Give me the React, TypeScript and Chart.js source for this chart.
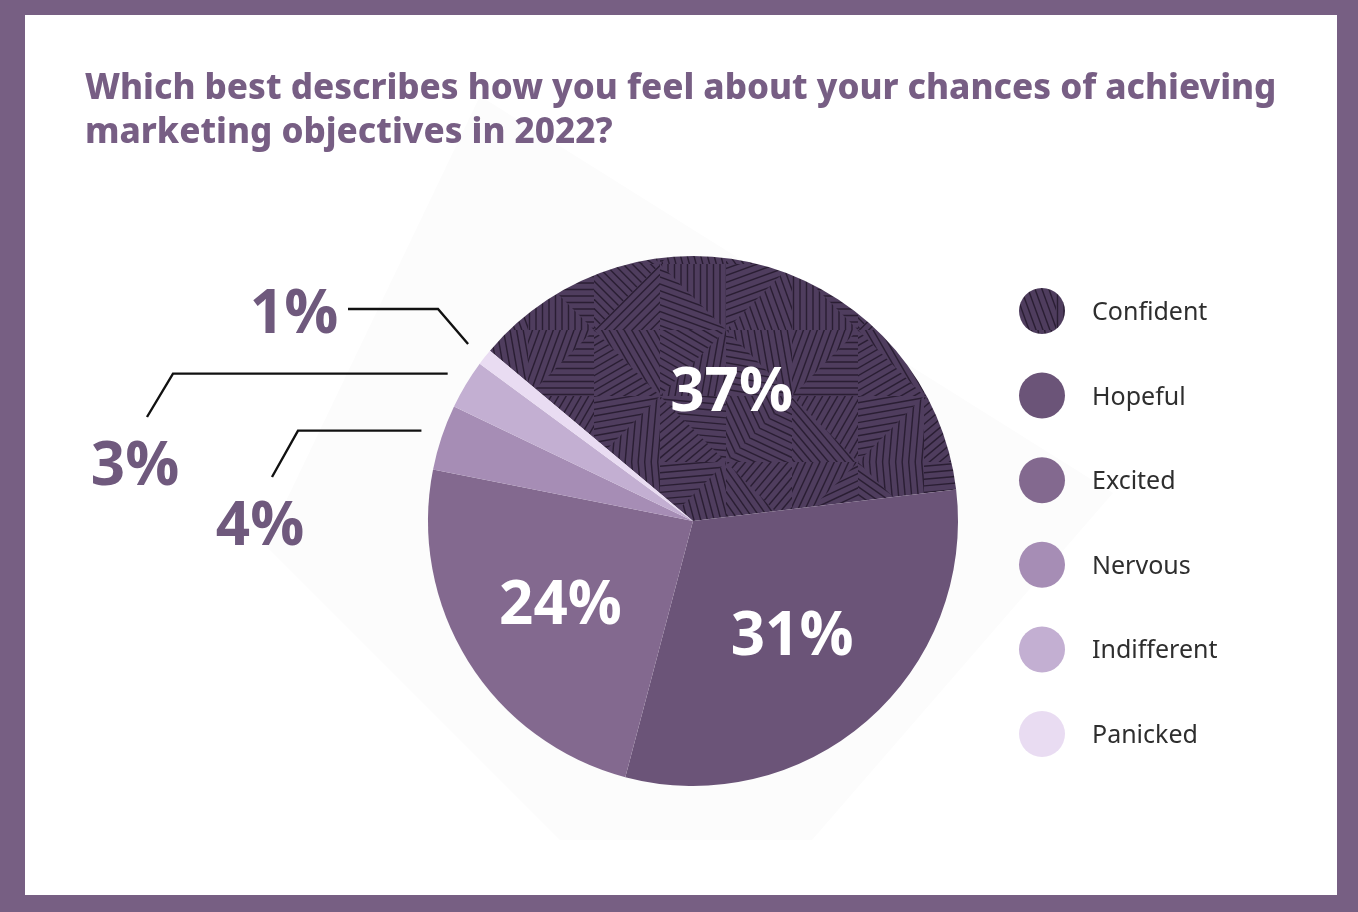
import React, { useEffect, useRef } from "react";
import { Chart, registerables } from "chart.js";
Chart.register(...registerables);

// ---------- data ----------
const categories = ["Confident", "Hopeful", "Excited", "Nervous", "Indifferent", "Panicked"];
const shares = [37, 31, 24, 4, 3, 1];
const sliceColors = ["#4f3d5e", "#6b5478", "#83698f", "#a68db5", "#c3afd2", "#e9dcf2"];
const titleLines = [
  "Which best describes how you feel about your chances of achieving",
  "marketing objectives in 2022?",
];

// ---------- layout / style ----------
const W = 1358;
const H = 912;
const FRAME = "#775f83";
const TITLE_COLOR = "#775e84";
const CALLOUT_COLOR = "#6f597d";
const PIE_RADIUS = 265;
const insideLabelRadius = [0.51, 0.57, 0.59];
// callout paths after the arc anchor (null y = keep anchor y) and text anchor (center x, baseline y)
const callouts: Record<number, { path: [number, number | null][]; text: [number, number] }> = {
  5: { path: [[438, 309], [348, 309]], text: [294, 333] },
  4: { path: [[173, null], [147, 417]], text: [135, 485] },
  3: { path: [[298, null], [272, 477]], text: [260, 545] },
};
const backdrop: [number, number][] = [[265, 545], [480, 96], [1113, 493], [812, 840], [560, 840]];
const LEGEND_X = 1042;
const LEGEND_Y0 = 311;
const LEGEND_STEP = 84.6;
const LEGEND_R = 23;
const LEGEND_TEXT_X = 1092;

function makeHatch(base: string, ink: string): CanvasPattern | string {
  const cell = 66;
  const n = 4;
  const size = cell * n;
  const c = document.createElement("canvas");
  c.width = size;
  c.height = size;
  const g = c.getContext("2d");
  if (!g) return base;
  g.fillStyle = base;
  g.fillRect(0, 0, size, size);
  g.strokeStyle = ink;
  g.lineWidth = 1.4;
  const angles = [0, 90, 45, 135, 90, 20, 160, 70, 110, 0, 60, 150, 30, 100, 80, 10,
    120, 50, 170, 95, 5, 140, 65, 25, 115, 155, 85, 35, 175, 75, 130, 55];
  let k = 0;
  for (let r = 0; r < n; r++) {
    for (let q = 0; q < n; q++) {
      const x0 = q * cell;
      const y0 = r * cell;
      const flip = (r + q) % 2 === 0;
      const tris = flip
        ? [[[x0, y0], [x0 + cell, y0], [x0 + cell, y0 + cell]], [[x0, y0], [x0, y0 + cell], [x0 + cell, y0 + cell]]]
        : [[[x0 + cell, y0], [x0, y0], [x0, y0 + cell]], [[x0 + cell, y0], [x0 + cell, y0 + cell], [x0, y0 + cell]]];
      for (const tri of tris) {
        const a = (angles[k++ % angles.length] * Math.PI) / 180;
        g.save();
        g.beginPath();
        g.moveTo(tri[0][0], tri[0][1]);
        g.lineTo(tri[1][0], tri[1][1]);
        g.lineTo(tri[2][0], tri[2][1]);
        g.closePath();
        g.clip();
        const cx = x0 + cell / 2;
        const cy = y0 + cell / 2;
        const dx = Math.cos(a), dy = Math.sin(a);
        const nx = -dy, ny = dx;
        for (let t = -cell; t <= cell; t += 6.5) {
          const px = cx + nx * t, py = cy + ny * t;
          g.beginPath();
          g.moveTo(px - dx * cell, py - dy * cell);
          g.lineTo(px + dx * cell, py + dy * cell);
          g.stroke();
        }
        g.restore();
      }
    }
  }
  const ctx = document.createElement("canvas").getContext("2d");
  return (ctx && ctx.createPattern(c, "repeat")) || base;
}

export default function App() {
  const ref = useRef<HTMLCanvasElement | null>(null);

  useEffect(() => {
    if (!ref.current) return;
    const fills = sliceColors.map((c, i) => (i === 0 ? makeHatch(c, "#2a1e33") : c));

    const overlay = {
      id: "overlay",
      beforeDatasetsDraw(chart: any) {
        const ctx = chart.ctx as CanvasRenderingContext2D;
        ctx.save();
        ctx.fillStyle = "#fcfcfc";
        ctx.beginPath();
        backdrop.forEach(([x, y], i) => (i ? ctx.lineTo(x, y) : ctx.moveTo(x, y)));
        ctx.closePath();
        ctx.fill();
        ctx.restore();
      },
      afterDatasetsDraw(chart: any) {
        const ctx = chart.ctx as CanvasRenderingContext2D;
        const meta = chart.getDatasetMeta(0);
        ctx.save();
        meta.data.forEach((arc: any, i: number) => {
          const p = arc.getProps(["x", "y", "startAngle", "endAngle", "outerRadius"], true);
          const mid = (p.startAngle + p.endAngle) / 2;
          const label = `${shares[i]}%`;
          ctx.font = "700 60px 'Open Sans'";
          ctx.textAlign = "center";
          ctx.textBaseline = "alphabetic";
          if (shares[i] >= 10) {
            const rr = p.outerRadius * (insideLabelRadius[i] ?? 0.55);
            ctx.fillStyle = "#ffffff";
            ctx.fillText(label, p.x + Math.cos(mid) * rr, p.y + Math.sin(mid) * rr + 20);
          } else {
            const co = callouts[i];
            if (!co) return;
            const ax = p.x + Math.cos(mid) * p.outerRadius * 1.08;
            const ay = p.y + Math.sin(mid) * p.outerRadius * 1.08;
            ctx.strokeStyle = "#111111";
            ctx.lineWidth = 2.4;
            ctx.beginPath();
            ctx.moveTo(ax, ay);
            co.path.forEach(([x, y]) => ctx.lineTo(x, y === null ? ay : y));
            ctx.stroke();
            ctx.fillStyle = CALLOUT_COLOR;
            ctx.fillText(label, co.text[0], co.text[1]);
          }
        });
        // legend
        categories.forEach((name, i) => {
          const cy = LEGEND_Y0 + i * LEGEND_STEP;
          ctx.beginPath();
          ctx.arc(LEGEND_X, cy, LEGEND_R, 0, Math.PI * 2);
          ctx.fillStyle = fills[i] as any;
          ctx.fill();
          ctx.fillStyle = "#2e2e2e";
          ctx.font = "400 25px 'Noto Sans'";
          ctx.textAlign = "left";
          ctx.textBaseline = "alphabetic";
          ctx.fillText(name, LEGEND_TEXT_X, cy + 9);
        });
        ctx.restore();
      },
    };

    const chart = new Chart(ref.current, {
      type: "pie",
      data: {
        labels: categories,
        datasets: [
          {
            data: shares,
            backgroundColor: fills as any,
            borderWidth: 0,
            hoverOffset: 0,
            radius: PIE_RADIUS,
          } as any,
        ],
      },
      options: {
        animation: false,
        responsive: false,
        events: [],
        rotation: -50,
        radius: PIE_RADIUS,
        layout: { padding: { left: 28, right: 0, top: 130, bottom: 0 } },
        plugins: { legend: { display: false }, tooltip: { enabled: false }, title: { display: false } },
      } as any,
      plugins: [overlay],
    });
    return () => chart.destroy();
  }, []);

  return (
    <div style={{ position: "fixed", left: 0, top: 0, width: W, height: H, background: FRAME, overflow: "hidden" }}>
      <div style={{ position: "absolute", left: 25, top: 15, width: 1312, height: 880, background: "#ffffff" }} />
      <canvas ref={ref} width={W} height={H} style={{ position: "absolute", left: 0, top: 0, width: W, height: H }} />
      <div
        style={{
          position: "absolute",
          left: 85,
          top: 64,
          font: "800 35px 'Noto Sans'",
          lineHeight: "44px",
          color: TITLE_COLOR,
          whiteSpace: "nowrap",
        }}
      >
        {titleLines.map((t) => (
          <div key={t}>{t}</div>
        ))}
      </div>
    </div>
  );
}
